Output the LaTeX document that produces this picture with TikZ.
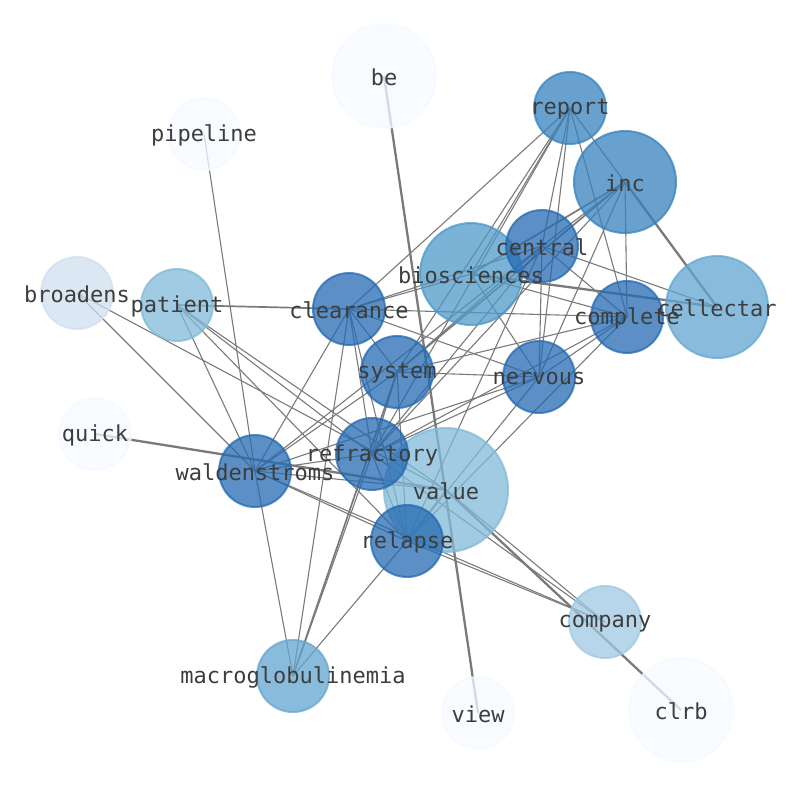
\documentclass[tikz,border=0pt]{standalone}
\usepackage{fontspec}
\setmonofont{DejaVu Sans Mono}
\usetikzlibrary{backgrounds}
\pgfdeclarelayer{edges}
\pgfsetlayers{edges,background,main}

\definecolor{bluedeep}{RGB}{36,106,178}
\definecolor{bluemid}{RGB}{54,130,190}
\definecolor{bluesoft}{RGB}{78,153,200}
\definecolor{bluelight}{RGB}{98,166,208}
\definecolor{bluepale}{RGB}{128,186,216}
\definecolor{bluefaint}{RGB}{160,200,226}
\definecolor{bluewash}{RGB}{207,223,239}
\definecolor{bluewhite}{RGB}{245,250,255}

\begin{document}
\begin{tikzpicture}[x=1pt, y=-1pt,
  word/.style={circle, inner sep=0pt, minimum size=72pt, line width=2pt,
               fill opacity=0.75, draw opacity=0.75},
  big/.style={minimum size=102pt},
  lbl/.style={font=\ttfamily\fontsize{22}{22}\selectfont, text=black!76, inner sep=0pt},
  link/.style={draw=black!52, line width=1.1pt},
  heavy/.style={draw=black!52, line width=2.3pt},
]
\useasboundingbox (0,0) rectangle (794,790);

% word circles
\begin{scope}[on background layer]
  \node[word, minimum size=104pt, fill=bluewhite, draw=bluewhite] (be) at (384,76) {};
  \node[word, fill=bluemid, draw=bluemid] (report) at (570,108) {};
  \node[word, fill=bluewhite, draw=bluewhite] (pipeline) at (204,134) {};
  \node[word, big, fill=bluemid, draw=bluemid] (inc) at (625,182) {};
  \node[word, big, fill=bluesoft, draw=bluesoft] (bios) at (471,274) {};
  \node[word, fill=bluedeep, draw=bluedeep] (central) at (542,246) {};
  \node[word, fill=bluewash, draw=bluewash] (broadens) at (77,293) {};
  \node[word, fill=bluepale, draw=bluepale] (patient) at (177,305) {};
  \node[word, fill=bluedeep, draw=bluedeep] (clearance) at (349,309) {};
  \node[word, big, fill=bluelight, draw=bluelight] (cellectar) at (717,307) {};
  \node[word, fill=bluedeep, draw=bluedeep] (complete) at (627,317) {};
  \node[word, fill=bluedeep, draw=bluedeep] (system) at (397,372) {};
  \node[word, fill=bluedeep, draw=bluedeep] (nervous) at (539,377) {};
  \node[word, fill=bluewhite, draw=bluewhite] (quick) at (95,434) {};
  \node[word, minimum size=124pt, fill=bluepale, draw=bluepale] (value) at (446,490) {};
  \node[word, fill=bluedeep, draw=bluedeep] (refractory) at (372,454) {};
  \node[word, fill=bluedeep, draw=bluedeep] (walden) at (255,471) {};
  \node[word, fill=bluedeep, draw=bluedeep] (relapse) at (407,541) {};
  \node[word, fill=bluefaint, draw=bluefaint] (company) at (605,622) {};
  \node[word, fill=bluelight, draw=bluelight] (macro) at (293,676) {};
  \node[word, fill=bluewhite, draw=bluewhite] (view) at (478,713) {};
  \node[word, minimum size=104pt, fill=bluewhite, draw=bluewhite] (clrb) at (681,710) {};
\end{scope}

% links between words
\begin{pgfonlayer}{edges}
  \foreach \a/\b in {pipeline/walden, broadens/walden, broadens/value,
      patient/walden, patient/refractory, patient/relapse, patient/value,
      report/clearance, report/system, report/bios, report/refractory,
      report/central, report/nervous, report/complete, report/cellectar,
      inc/central, inc/nervous, inc/complete, inc/refractory,
      central/cellectar, central/complete, central/nervous, central/system,
      central/refractory, central/relapse, central/walden, central/clearance,
      clearance/complete, clearance/nervous, clearance/system, clearance/walden,
      clearance/refractory, clearance/relapse, clearance/macro, clearance/bios,
      system/nervous, system/complete, system/walden, system/refractory, system/relapse,
      nervous/walden, nervous/refractory, nervous/relapse, nervous/complete, nervous/bios,
      complete/relapse, complete/refractory, complete/bios,
      refractory/relapse, refractory/walden, refractory/macro, refractory/company,
      walden/relapse, walden/company, walden/value, walden/macro,
      relapse/macro, relapse/value, relapse/company, value/company}
    \draw[link] (\a.center) -- (\b.center);
  \foreach \a/\b in {be/view, quick/value, value/clrb, inc/cellectar, bios/cellectar}
    \draw[heavy] (\a.center) -- (\b.center);
  \draw[link, line width=1.7pt] (inc.center) -- (bios.center);
  \draw[link, line width=1.7pt] (inc.center) -- (system.center);
  \draw[link, line width=1.7pt] (patient.center) -- (clearance.center);
  \draw[link, line width=1.7pt] (system.center) -- (macro.center);
\end{pgfonlayer}

% word labels
\foreach \n/\t in {be/be, report/report, pipeline/pipeline, inc/inc, bios/biosciences,
    central/central, broadens/broadens, patient/patient, clearance/clearance,
    cellectar/cellectar, complete/complete, system/system, nervous/nervous,
    quick/quick, value/value, refractory/refractory, walden/waldenstroms,
    relapse/relapse, company/company, macro/macroglobulinemia, view/view, clrb/clrb}
  \node[lbl, yshift=-1.5pt] at (\n.center) {\t};

\end{tikzpicture}
\end{document}
